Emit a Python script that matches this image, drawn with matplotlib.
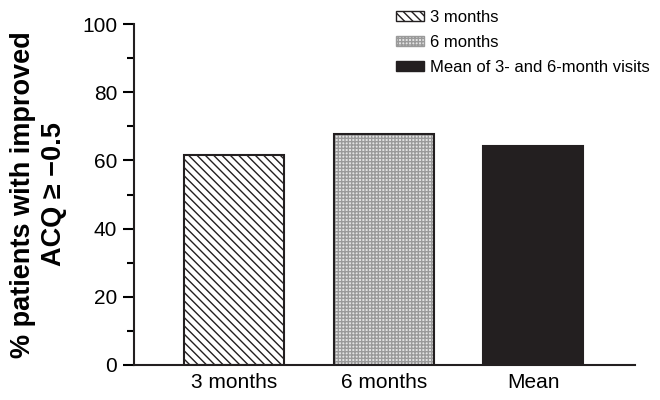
import matplotlib
matplotlib.use("Agg")
import matplotlib.pyplot as plt
from matplotlib.patches import Patch

plt.rcParams["font.family"] = ["Liberation Sans", "DejaVu Sans"]

categories = ["3 months", "6 months", "Mean"]
values = [61.7, 67.7, 64.2]
legend_labels = ["3 months", "6 months", "Mean of 3- and 6-month visits"]

fig = plt.figure(figsize=(6.6, 4.0), dpi=100)
ax = fig.add_axes([0.203, 0.0875, 0.759, 0.8525])

x = list(range(len(categories)))
w = 0.67

# hatched bar
ax.bar(x[0], values[0], width=w, facecolor="white", edgecolor="#231f20",
       hatch="\\\\\\\\", linewidth=1.5, zorder=2)
# fine grid bar: grey hatch, then black outline on top
ax.bar(x[1], values[1], width=w, facecolor="#e4e4e4", edgecolor="#9a9a9a",
       hatch="+++++", linewidth=0, zorder=2)
ax.bar(x[1], values[1], width=w, fill=False, edgecolor="#231f20",
       linewidth=1.5, zorder=3)
# solid bar
ax.bar(x[2], values[2], width=w, facecolor="#231f20", edgecolor="#231f20",
       linewidth=1.5, zorder=2)

ax.set_xlim(-0.669, 2.68)
ax.set_ylim(0, 100)
ax.set_xticks(x)
ax.set_xticklabels(categories, fontsize=15)
ax.tick_params(axis="x", length=0, pad=6)
ax.set_yticks([0, 20, 40, 60, 80, 100])
ax.set_yticks([10, 30, 50, 70, 90], minor=True)
ax.tick_params(axis="y", which="major", length=8, width=1.5, labelsize=15, pad=4)
ax.tick_params(axis="y", which="minor", length=5, width=1.5)

for s in ["top", "right"]:
    ax.spines[s].set_visible(False)
for s in ["left", "bottom"]:
    ax.spines[s].set_linewidth(1.5)
    ax.spines[s].set_color("#231f20")

ax.set_ylabel("% patients with improved\nACQ \u2265 \u22120.5", fontsize=19.5,
              fontweight="bold", linespacing=1.25)
ax.yaxis.set_label_coords(-0.133, 0.5)

handles = [
    Patch(facecolor="white", edgecolor="#231f20", hatch="\\\\\\\\", linewidth=1.0),
    Patch(facecolor="#e4e4e4", edgecolor="#9a9a9a", hatch="+++++", linewidth=1.0),
    Patch(facecolor="#231f20", edgecolor="#231f20", linewidth=1.0),
]
fig.legend(handles, legend_labels, loc="upper left", bbox_to_anchor=(0.6, 0.9745),
           frameon=False, fontsize=12, handlelength=1.68, handleheight=0.55,
           handletextpad=0.36, labelspacing=0.6, borderpad=0, borderaxespad=0)

fig.savefig("out.png", dpi=100)
